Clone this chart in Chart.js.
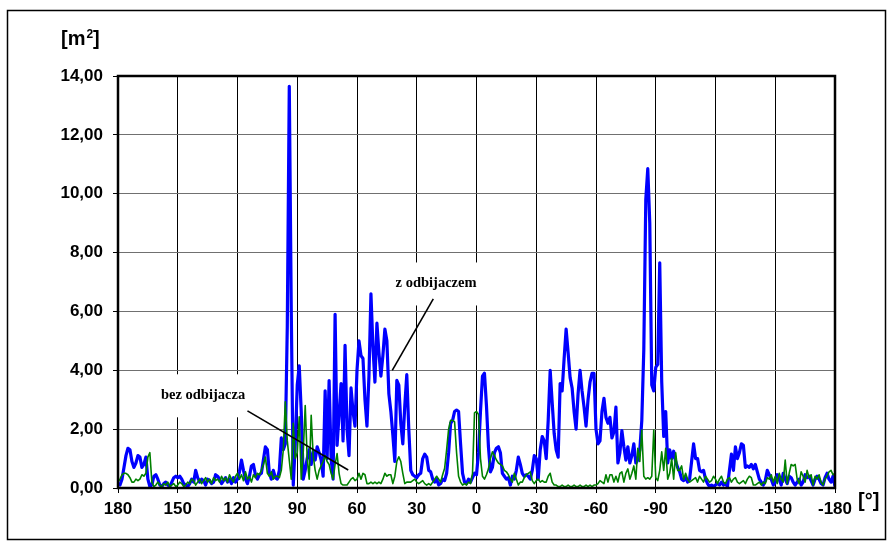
<!DOCTYPE html>
<html>
<head>
<meta charset="utf-8">
<script src="https://cdn.jsdelivr.net/npm/chart.js@4/dist/chart.umd.min.js"></script>
<style>
  body { margin: 0; background: #fff; }
</style>
</head>
<body>
<canvas id="chart" width="889" height="542"></canvas>
<script>
// angle [deg], one point per degree, from 180 down to -180
const angles = [
  180, 179, 178, 177, 176, 175, 174, 173, 172, 171,
  170, 169, 168, 167, 166, 165, 164, 163, 162, 161,
  160, 159, 158, 157, 156, 155, 154, 153, 152, 151,
  150, 149, 148, 147, 146, 145, 144, 143, 142, 141,
  140, 139, 138, 137, 136, 135, 134, 133, 132, 131,
  130, 129, 128, 127, 126, 125, 124, 123, 122, 121,
  120, 119, 118, 117, 116, 115, 114, 113, 112, 111,
  110, 109, 108, 107, 106, 105, 104, 103, 102, 101,
  100, 99, 98, 97, 96, 95, 94, 93, 92, 91,
  90, 89, 88, 87, 86, 85, 84, 83, 82, 81,
  80, 79, 78, 77, 76, 75, 74, 73, 72, 71,
  70, 69, 68, 67, 66, 65, 64, 63, 62, 61,
  60, 59, 58, 57, 56, 55, 54, 53, 52, 51,
  50, 49, 48, 47, 46, 45, 44, 43, 42, 41,
  40, 39, 38, 37, 36, 35, 34, 33, 32, 31,
  30, 29, 28, 27, 26, 25, 24, 23, 22, 21,
  20, 19, 18, 17, 16, 15, 14, 13, 12, 11,
  10, 9, 8, 7, 6, 5, 4, 3, 2, 1,
  0, -1, -2, -3, -4, -5, -6, -7, -8, -9,
  -10, -11, -12, -13, -14, -15, -16, -17, -18, -19,
  -20, -21, -22, -23, -24, -25, -26, -27, -28, -29,
  -30, -31, -32, -33, -34, -35, -36, -37, -38, -39,
  -40, -41, -42, -43, -44, -45, -46, -47, -48, -49,
  -50, -51, -52, -53, -54, -55, -56, -57, -58, -59,
  -60, -61, -62, -63, -64, -65, -66, -67, -68, -69,
  -70, -71, -72, -73, -74, -75, -76, -77, -78, -79,
  -80, -81, -82, -83, -84, -85, -86, -87, -88, -89,
  -90, -91, -92, -93, -94, -95, -96, -97, -98, -99,
  -100, -101, -102, -103, -104, -105, -106, -107, -108, -109,
  -110, -111, -112, -113, -114, -115, -116, -117, -118, -119,
  -120, -121, -122, -123, -124, -125, -126, -127, -128, -129,
  -130, -131, -132, -133, -134, -135, -136, -137, -138, -139,
  -140, -141, -142, -143, -144, -145, -146, -147, -148, -149,
  -150, -151, -152, -153, -154, -155, -156, -157, -158, -159,
  -160, -161, -162, -163, -164, -165, -166, -167, -168, -169,
  -170, -171, -172, -173, -174, -175, -176, -177, -178, -179,
  -180
];

// z odbijaczem [m2]
const zOdbijaczem = [
  0.15, 0.1, 0.3, 0.7, 1.1, 1.35, 1.3, 0.9, 0.7, 0.85,
  1.1, 1.05, 0.7, 0.8, 1.05, 0.3, 0.05, 0.1, 0.4, 0.45,
  0.3, 0.1, 0.05, 0.15, 0.2, 0.1, 0.05, 0.2, 0.35, 0.4,
  0.35, 0.4, 0.3, 0.15, 0.1, 0.05, 0.15, 0.3, 0.2, 0.6,
  0.35, 0.2, 0.3, 0.25, 0.1, 0.3, 0.25, 0.15, 0.2, 0.45,
  0.4, 0.3, 0.15, 0.25, 0.35, 0.2, 0.3, 0.15, 0.35, 0.2,
  0.3, 0.55, 0.95, 0.6, 0.3, 0.15, 0.4, 0.75, 0.8, 0.45,
  0.3, 0.45, 0.5, 0.95, 1.4, 1.3, 0.5, 0.3, 0.6, 0.35,
  0.3, 0.6, 1.7, 1.3, 1.5, 5.5, 13.65, 6.0, 0.1, 1.5,
  3.5, 4.15, 2.6, 0.3, 0.6, 1.0, 1.3, 0.8, 1.25, 0.95,
  1.4, 1.2, 0.95, 0.4, 3.3, 1.0, 3.65, 1.0, 0.3, 5.9,
  1.45, 2.5, 3.55, 1.6, 4.85, 2.0, 1.1, 3.4, 2.6, 2.1,
  4.0, 5.0, 4.5, 4.4, 3.0, 2.1, 3.8, 6.6, 4.8, 3.6,
  5.6, 4.6, 3.8, 4.5, 5.4, 5.0, 3.2, 2.6, 1.8, 0.9,
  3.66, 3.5, 2.2, 1.5, 2.8, 3.85, 2.0, 0.6, 0.45, 0.4,
  0.35, 0.45, 0.5, 1.0, 1.15, 1.05, 0.6, 0.55, 0.3, 0.2,
  0.3, 0.1, 0.15, 0.3, 0.25, 0.5, 1.2, 2.2, 2.3, 2.6,
  2.65, 2.6, 1.5, 0.5, 0.2, 0.15, 0.3, 0.2, 0.35, 0.5,
  0.45, 1.2, 2.6, 3.8, 3.9, 2.8, 1.4, 0.55, 0.7, 1.2,
  1.35, 1.4, 1.2, 0.5, 0.4, 0.3, 0.35, 0.1, 0.4, 0.3,
  0.6, 1.05, 0.8, 0.5, 0.4, 0.45, 0.4, 0.3, 0.6, 1.1,
  1.0, 0.3, 1.3, 1.75, 1.6, 1.0, 2.3, 4.0, 2.9, 1.85,
  1.3, 1.05, 3.55, 3.3, 4.4, 5.4, 4.6, 3.75, 3.4, 2.6,
  2.0, 3.2, 4.0, 3.3, 2.75, 2.1, 3.0, 3.6, 3.9, 3.9,
  2.0, 1.5, 1.6, 2.6, 3.05, 2.4, 2.2, 2.4, 1.7, 1.9,
  2.75, 0.85, 1.2, 1.95, 1.4, 0.95, 1.4, 0.85, 1.1, 1.5,
  0.85, 0.95, 1.3, 2.3, 4.7, 9.8, 10.85, 9.0, 3.5, 3.3,
  4.1, 4.2, 7.65, 3.6, 1.75, 2.6, 0.85, 1.3, 1.0, 1.25,
  0.9, 0.7, 0.55, 0.3, 0.25, 0.35, 0.2, 0.3, 0.9, 1.5,
  1.0, 1.0, 0.6, 0.55, 0.6, 0.3, 0.15, 0.05, 0.1, 0.05,
  0.1, 0.15, 0.1, 0.2, 0.1, 0.15, 0.05, 0.6, 1.15, 0.6,
  1.4, 1.0, 1.2, 1.5, 1.45, 0.7, 0.75, 0.7, 0.8, 0.65,
  0.8, 0.55, 0.3, 0.2, 0.1, 0.25, 0.6, 0.45, 0.3, 0.1,
  0.2, 0.45, 0.3, 0.1, 0.5, 0.3, 0.15, 0.4, 0.35, 0.2,
  0.1, 0.2, 0.3, 0.1, 0.2, 0.45, 0.35, 0.4, 0.25, 0.1,
  0.3, 0.4, 0.3, 0.15, 0.1, 0.35, 0.5, 0.3, 0.2, 0.4,
  0.05
];

// bez odbijacza [m2]
const bezOdbijacza = [
  0.2, 0.3, 0.45, 0.5, 0.5, 0.45, 0.35, 0.2, 0.2, 0.3,
  0.25, 0.3, 0.45, 0.4, 0.5, 1.05, 1.2, 0.2, 0.05, 0.1,
  0.2, 0.1, 0.05, 0.15, 0.1, 0.2, 0.05, 0.1, 0.15, 0.05,
  0.1, 0.2, 0.15, 0.05, 0.1, 0.2, 0.15, 0.3, 0.25, 0.1,
  0.2, 0.3, 0.15, 0.25, 0.35, 0.2, 0.3, 0.15, 0.35, 0.25,
  0.3, 0.2, 0.4, 0.25, 0.35, 0.2, 0.45, 0.3, 0.2, 0.4,
  0.5, 0.3, 0.45, 0.25, 0.55, 0.3, 0.4, 0.2, 0.45, 0.35,
  0.5, 0.45, 0.6, 0.8, 1.05, 0.5, 0.4, 0.55, 0.3, 0.4,
  0.4, 0.35, 0.6, 1.3, 2.93, 1.6, 0.95, 0.3, 2.2, 1.0,
  1.2, 2.42, 0.3, 1.2, 2.8, 1.0, 0.3, 2.47, 1.1, 0.6,
  0.3, 0.6, 0.75, 0.9, 1.1, 0.9, 0.8, 0.5, 0.3, 0.8,
  1.17, 0.5, 0.15, 0.1, 0.1, 0.1, 0.2, 0.3, 0.35, 0.25,
  0.3, 0.5, 0.3, 0.5, 0.45, 0.15, 0.15, 0.2, 0.15, 0.2,
  0.15, 0.2, 0.15, 0.3, 0.5, 0.4, 0.45, 0.45, 0.15, 0.4,
  0.9, 1.06, 0.9, 0.5, 0.15, 0.2, 0.2, 0.2, 0.25, 0.3,
  0.2, 0.15, 0.2, 0.25, 0.15, 0.1, 0.15, 0.1, 0.2, 0.3,
  0.4, 0.3, 0.2, 0.45, 0.67, 1.3, 2.0, 2.3, 2.3, 2.25,
  1.2, 0.4, 0.2, 0.1, 0.15, 0.1, 0.2, 0.15, 0.5, 2.55,
  2.6, 2.5, 1.0, 0.4, 0.3, 0.45, 0.65, 1.0, 1.23, 1.1,
  0.95, 0.85, 0.8, 0.75, 0.6, 0.55, 0.45, 0.3, 0.2, 0.5,
  0.3, 0.1, 0.2, 0.2, 0.35, 0.45, 0.5, 0.55, 0.25, 0.15,
  0.25, 0.3, 0.2, 0.25, 0.2, 0.2, 0.4, 0.5, 0.2, 0.1,
  0.1, 0.05, 0.05, 0.1, 0.05, 0.05, 0.1, 0.05, 0.05, 0.1,
  0.05, 0.05, 0.1, 0.05, 0.05, 0.1, 0.05, 0.1, 0.05, 0.1,
  0.1, 0.15, 0.25, 0.2, 0.15, 0.45, 0.2, 0.45, 0.45, 0.2,
  0.4, 0.2, 0.5, 0.55, 0.2, 0.5, 0.65, 0.3, 0.5, 0.75,
  0.3, 1.35, 0.9, 1.97, 0.4, 0.3, 0.35, 0.3, 0.4, 1.97,
  0.35, 0.25, 0.6, 1.23, 0.6, 1.35, 0.3, 0.5, 1.0, 0.3,
  1.2, 0.6, 0.6, 0.75, 0.3, 0.5, 0.3, 0.2, 0.25, 0.3,
  0.35, 0.2, 0.4, 0.3, 0.2, 0.4, 0.3, 0.2, 0.25, 0.4,
  0.3, 0.15, 0.3, 0.4, 0.2, 0.15, 0.3, 0.35, 0.2, 0.3,
  0.35, 0.2, 0.15, 0.2, 0.25, 0.15, 0.3, 0.4, 0.35, 0.1,
  0.1, 0.15, 0.2, 0.1, 0.2, 0.15, 0.35, 0.3, 0.45, 0.2,
  0.4, 0.15, 0.5, 0.3, 0.2, 0.95, 0.15, 0.5, 0.8, 0.75,
  0.8, 0.3, 0.15, 0.55, 0.4, 0.2, 0.6, 0.35, 0.45, 0.1,
  0.4, 0.3, 0.45, 0.2, 0.1, 0.3, 0.4, 0.55, 0.6, 0.45,
  0.5
];

const xTicks = [180, 150, 120, 90, 60, 30, 0, -30, -60, -90, -120, -150, -180];
const xTickLabels = ['180', '150', '120', '90', '60', '30', '0', '-30', '-60', '-90', '-120', '-150', '-180'];
const yTicks = [0, 2, 4, 6, 8, 10, 12, 14];
const yTickLabels = ['0,00', '2,00', '4,00', '6,00', '8,00', '10,00', '12,00', '14,00'];

// text labels with leader lines, placed in data units (angle, m2)
const notes = [
  { text: 'bez odbijacza', at: [137.3, 3.15], from: [115, 2.62], to: [64.4, 0.61] },
  { text: 'z odbijaczem', at: [20.3, 6.95], from: [21.7, 6.43], to: [42.3, 4.0] }
];

const tickFont = { family: '"Liberation Sans", Arial, sans-serif', size: 17, weight: 'bold' };

// draws the frames, unit labels and the note boxes
const decorPlugin = {
  id: 'decor',
  beforeDatasetsDraw(chart) {
    const ctx = chart.ctx;
    const xs = chart.scales.x, ys = chart.scales.y;
    ctx.save();
    ctx.font = 'bold 14.5px "Liberation Serif", "Times New Roman", serif';
    ctx.textAlign = 'center';
    ctx.textBaseline = 'middle';
    notes.forEach(n => {
      const cx = xs.getPixelForValue(n.at[0]);
      const cy = ys.getPixelForValue(n.at[1]);
      const w = ctx.measureText(n.text).width + 26;
      ctx.fillStyle = '#fff';
      ctx.fillRect(cx - w / 2, cy - 21, w, 43);
      ctx.fillStyle = '#000';
      ctx.fillText(n.text, cx, cy);
    });
    ctx.restore();
  },
  afterDatasetsDraw(chart) {
    const ctx = chart.ctx;
    const xs = chart.scales.x, ys = chart.scales.y;
    ctx.save();
    ctx.strokeStyle = '#000';
    ctx.lineWidth = 1.6;
    notes.forEach(n => {
      ctx.beginPath();
      ctx.moveTo(xs.getPixelForValue(n.from[0]), ys.getPixelForValue(n.from[1]));
      ctx.lineTo(xs.getPixelForValue(n.to[0]), ys.getPixelForValue(n.to[1]));
      ctx.stroke();
    });
    ctx.restore();
  },
  afterDraw(chart) {
    const ctx = chart.ctx;
    const a = chart.chartArea;
    ctx.save();
    // plot frame
    ctx.strokeStyle = '#000';
    ctx.lineWidth = 2.5;
    ctx.strokeRect(a.left, a.top, a.right - a.left, a.bottom - a.top);
    // outer border
    ctx.lineWidth = 1.5;
    ctx.strokeRect(7.5, 10.5, 878, 529);
    // y unit [m2]
    ctx.fillStyle = '#000';
    ctx.textBaseline = 'alphabetic';
    ctx.textAlign = 'left';
    ctx.font = 'bold 20px "Liberation Sans", Arial, sans-serif';
    let x = 61;
    ctx.fillText('[m', x, 45);
    x += ctx.measureText('[m').width + 1;
    ctx.font = 'bold 12px "Liberation Sans", Arial, sans-serif';
    ctx.fillText('2', x, 38);
    x += ctx.measureText('2').width;
    ctx.font = 'bold 20px "Liberation Sans", Arial, sans-serif';
    ctx.fillText(']', x, 45);
    // x unit [°]
    ctx.fillText('[°]', 858, 507);
    ctx.restore();
  }
};

new Chart(document.getElementById('chart'), {
  type: 'line',
  data: {
    datasets: [
      {
        label: 'bez odbijacza',
        data: bezOdbijacza.map((v, i) => ({ x: angles[i], y: v })),
        borderColor: '#008000',
        borderWidth: 1.6,
        order: 1
      },
      {
        label: 'z odbijaczem',
        data: zOdbijaczem.map((v, i) => ({ x: angles[i], y: v })),
        borderColor: '#0000ff',
        borderWidth: 3.2,
        order: 2
      }
    ]
  },
  options: {
    responsive: false,
    devicePixelRatio: 1,
    animation: false,
    layout: { padding: { left: 0, top: 76, right: 54, bottom: 0 } },
    elements: {
      point: { radius: 0 },
      line: { tension: 0, fill: false, borderJoinStyle: 'round' }
    },
    plugins: {
      legend: { display: false },
      tooltip: { enabled: false }
    },
    scales: {
      x: {
        type: 'linear',
        min: -180,
        max: 180,
        reverse: true,
        afterBuildTicks: s => { s.ticks = xTicks.map(v => ({ value: v })); },
        afterFit: s => { s.height = 54; },
        ticks: {
          callback: v => xTickLabels[xTicks.indexOf(v)],
          font: tickFont,
          color: '#000',
          padding: 6,
          maxRotation: 0,
          autoSkip: false
        },
        grid: { color: '#000', lineWidth: 1, tickLength: 5, tickColor: '#000' },
        border: { display: false }
      },
      y: {
        min: 0,
        max: 14,
        afterBuildTicks: s => { s.ticks = yTicks.map(v => ({ value: v })); },
        afterFit: s => { s.width = 118; },
        ticks: {
          callback: v => yTickLabels[yTicks.indexOf(v)],
          font: tickFont,
          color: '#000',
          padding: 10,
          autoSkip: false
        },
        grid: { color: '#707070', lineWidth: 1, tickLength: 5, tickColor: '#000' },
        border: { display: false }
      }
    }
  },
  plugins: [decorPlugin]
});
</script>
</body>
</html>
